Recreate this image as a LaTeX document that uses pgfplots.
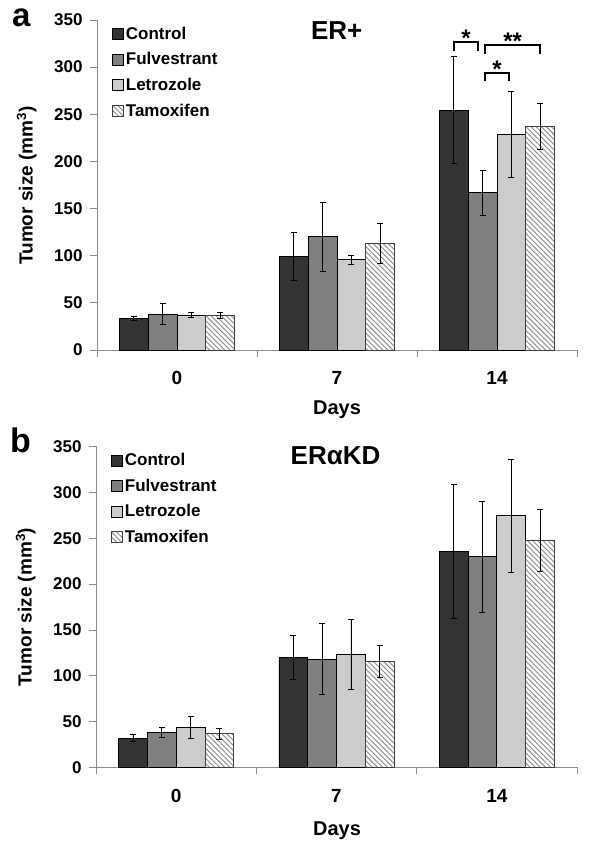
\documentclass[border=0pt]{standalone}
\usepackage{fontspec}
\setmainfont{Liberation Sans}
\usepackage{pgfplots}
\pgfplotsset{compat=1.18}
\usetikzlibrary{patterns.meta}
\definecolor{cctrl}{HTML}{333333}
\definecolor{cfulv}{HTML}{808080}
\definecolor{cletr}{HTML}{CCCCCC}
\definecolor{caxis}{HTML}{8C8C8C}
\definecolor{chatch}{HTML}{8A8A8A}

\pgfplotsset{
 myaxis/.style={
  scale only axis, anchor=south west,
  ybar=0pt, bar width=28.8pt,
  xmin=-0.5, xmax=2.5, ymin=0, ymax=350,
  xtick={0,1,2}, xticklabels={0,7,14},
  minor xtick={-0.5,0.5,1.5,2.5},
  major x tick style={draw=none},
  minor x tick style={draw=caxis, line width=0.8pt},
  ytick={0,50,...,350},
  axis lines=left, axis line style={-, draw=caxis, line width=0.8pt},
  tick align=outside, major tick length=7pt, minor tick length=7pt,
  major tick style={draw=caxis, line width=0.8pt},
  /pgf/number format/assume math mode=true,
  yticklabel style={font=\fontsize{17}{20}\selectfont\bfseries, xshift=-4pt},
  xticklabel style={font=\fontsize{19}{22}\selectfont\bfseries, yshift=-11pt},
  clip=false,
  legend style={draw=none, fill=none, at={(0.031,0.985)}, anchor=north west,
    font=\fontsize{17}{20}\selectfont\bfseries, row sep=7.7pt, inner sep=0pt,
    cells={anchor=west},
    /tikz/every even column/.append style={column sep=6pt}},
 },
 bars/.style={draw=black, line width=0.8pt,
  error bars/y dir=both, error bars/y explicit,
  error bars/error bar style={black, line width=0.7pt},
  error bars/error mark options={rotate=90, black, mark size=3pt, line width=0.7pt},
  legend image code/.code={\draw[##1, line width=0.8pt] (0pt,-5.5pt) rectangle (11pt,5.5pt);}},
}

\pgfplotstableread{
x y e
0 33.5 2
1 99 25.6
2 254.5 57
}\aCtrl
\pgfplotstableread{
x y e
0 38 11
1 120 37
2 167 24
}\aFulv
\pgfplotstableread{
x y e
0 37 2.5
1 96 4.7
2 229 45.6
}\aLetr
\pgfplotstableread{
x y e
0 36.4 3
1 113 21
2 237.5 24.2
}\aTamo

\pgfplotstableread{
x y e
0 32 4
1 120 24
2 235.5 73
}\bCtrl
\pgfplotstableread{
x y e
0 38.5 5.6
1 118 38.7
2 230 60.7
}\bFulv
\pgfplotstableread{
x y e
0 43.5 12
1 123.5 38.5
2 274.5 61.6
}\bLetr
\pgfplotstableread{
x y e
0 37 5.8
1 116 17.7
2 248 33.6
}\bTamo

\begin{document}
\begin{tikzpicture}
\path[use as bounding box] (0pt,0pt) rectangle (600pt,843pt);

% ---------- panel a ----------
\begin{axis}[myaxis, at={(97pt,493pt)}, width=480pt, height=330pt]
\addplot[bars, fill=cctrl] table[x=x,y=y,y error=e] {\aCtrl};
\addplot[bars, fill=cfulv] table[x=x,y=y,y error=e] {\aFulv};
\addplot[bars, fill=cletr] table[x=x,y=y,y error=e] {\aLetr};
\addplot[bars, draw=black!75, pattern={Lines[angle=-45,distance=3.6pt,line width=0.9pt]}, pattern color=chatch] table[x=x,y=y,y error=e] {\aTamo};
\legend{Control,Fulvestrant,Letrozole,Tamoxifen}
% significance brackets
\draw[black, line width=2pt] (axis cs:1.73,317) -- (axis cs:1.73,327) -- (axis cs:1.88,327) -- (axis cs:1.88,317);
\draw[black, line width=2pt] (axis cs:1.925,314) -- (axis cs:1.925,323) -- (axis cs:2.27,323) -- (axis cs:2.27,314);
\draw[black, line width=2pt] (axis cs:1.925,285) -- (axis cs:1.925,294) -- (axis cs:2.075,294) -- (axis cs:2.075,285);
\node[font=\fontsize{24}{26}\selectfont\bfseries] at (axis cs:1.806,331) {*};
\node[font=\fontsize{24}{26}\selectfont\bfseries] at (axis cs:2.098,327) {**};
\node[font=\fontsize{24}{26}\selectfont\bfseries] at (axis cs:2.0,298) {*};
\end{axis}

% ---------- panel b ----------
\begin{axis}[myaxis, at={(96pt,75.5pt)}, width=481pt, height=321pt]
\addplot[bars, fill=cctrl] table[x=x,y=y,y error=e] {\bCtrl};
\addplot[bars, fill=cfulv] table[x=x,y=y,y error=e] {\bFulv};
\addplot[bars, fill=cletr] table[x=x,y=y,y error=e] {\bLetr};
\addplot[bars, draw=black!75, pattern={Lines[angle=-45,distance=3.6pt,line width=0.9pt]}, pattern color=chatch] table[x=x,y=y,y error=e] {\bTamo};
\legend{Control,Fulvestrant,Letrozole,Tamoxifen}
\end{axis}

% ---------- texts ----------
\node[anchor=base west, font=\fontsize{33}{36}\selectfont\bfseries, inner sep=0pt] at (12pt,816pt) {a};
\node[anchor=base west, font=\fontsize{34}{36}\selectfont\bfseries, inner sep=0pt] at (10pt,390pt) {b};
\node[anchor=base, font=\fontsize{26}{28}\selectfont\bfseries, inner sep=0pt] at (336.7pt,803pt) {ER+};
\node[anchor=base, font=\fontsize{26}{28}\selectfont\bfseries, inner sep=0pt] at (335.5pt,378pt) {ERαKD};
\node[anchor=base, font=\fontsize{20}{22}\selectfont\bfseries, inner sep=0pt] at (337pt,428pt) {Days};
\node[anchor=base, font=\fontsize{20}{22}\selectfont\bfseries, inner sep=0pt] at (337pt,8pt) {Days};
\node[anchor=base, rotate=90, font=\fontsize{19}{22}\selectfont\bfseries, inner sep=0pt] at (32.5pt,657.5pt) {Tumor size (mm\textsuperscript{3})};
\node[anchor=base, rotate=90, font=\fontsize{19}{22}\selectfont\bfseries, inner sep=0pt] at (31.5pt,236pt) {Tumor size (mm\textsuperscript{3})};
\end{tikzpicture}
\end{document}
